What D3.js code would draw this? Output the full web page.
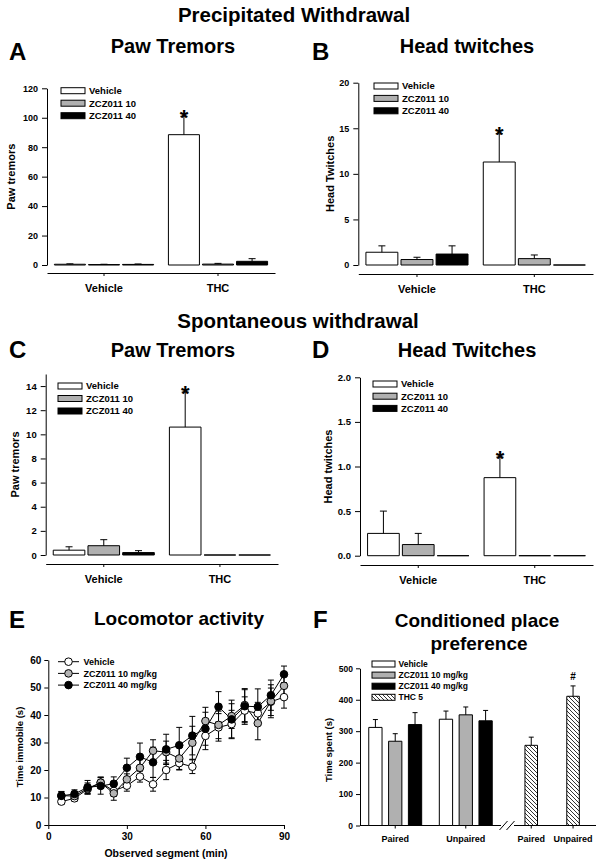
<!DOCTYPE html>
<html><head><meta charset="utf-8">
<script src="https://cdn.jsdelivr.net/npm/d3@7"></script>
<style>
body{margin:0;background:#fff;}
svg{display:block;font-family:"Liberation Sans",Arial,sans-serif;font-weight:bold;}
</style></head><body>
<svg id="c" width="600" height="864"></svg>
<script>
// ---------------- data ----------------
const barGroups = ["Vehicle", "THC"];
const barSeries = ["Vehicle", "ZCZ011 10", "ZCZ011 40"];
// [group][series]
const pawPrecipMean = [[0.5, 0.3, 0.4], [88.5, 0.6, 2.5]];
const pawPrecipSem  = [[0.3, 0.2, 0.3], [12.5, 0.5, 1.8]];
const headPrecipMean = [[1.4, 0.6, 1.2], [11.3, 0.7, 0]];
const headPrecipSem  = [[0.7, 0.25, 0.9], [3.1, 0.4, 0]];
const pawSpontMean = [[0.4, 0.77, 0.2], [10.6, 0, 0]];
const pawSpontSem  = [[0.28, 0.5, 0.16], [2.9, 0, 0]];
const headSpontMean = [[0.25, 0.125, 0], [0.875, 0, 0]];
const headSpontSem  = [[0.25, 0.125, 0], [0.23, 0, 0]];
const starMarks = [[0, 0, 0], [1, 0, 0]];

const ticksA = [0, 20, 40, 60, 80, 100, 120];
const ticksB = [0, 5, 10, 15, 20];
const ticksC = [0, 2, 4, 6, 8, 10, 12, 14];
const ticksD = [0, 0.5, 1.0, 1.5, 2.0];

const locoSeries = ["Vehicle", "ZCZ011 10 mg/kg", "ZCZ011 40 mg/kg"];
const locoTime = [5, 10, 15, 20, 25, 30, 35, 40, 45, 50, 55, 60, 65, 70, 75, 80, 85, 90];
const locoVehicle = [8.5, 9.7, 13, 15.4, 12.4, 14.3, 17.6, 14.8, 20, 22.5, 21.2, 32.4, 35.5, 36.7, 41.6, 40.6, 44.8, 46.5];
const locoVehicleSem = [1, 1, 1.5, 2, 2, 2, 2, 2.5, 3.5, 2.5, 2.5, 5, 5, 5, 5, 4, 5, 4];
const locoZ10 = [10.7, 10.5, 13.3, 15.4, 11.5, 16.6, 20.8, 27, 26.5, 24.2, 29.9, 37.8, 36.4, 39.6, 43.6, 37, 45, 50.6];
const locoZ10Sem = [1.5, 1.5, 2, 2, 2.5, 2, 3, 4, 4, 4, 6, 5, 5, 4.5, 6, 6, 6, 4];
const locoZ40 = [10.6, 11.3, 13.7, 14.2, 15, 20.8, 24.8, 22.8, 27.5, 29, 32.5, 35, 43, 38.4, 43.2, 43, 47.2, 54.8];
const locoZ40Sem = [1.5, 1.5, 2.5, 3, 2.5, 3.5, 5, 5.5, 5.5, 6.5, 7, 6, 5.5, 7, 6, 6.5, 5.5, 3];
const locoXTicks = [0, 30, 60, 90];
const locoYTicks = [0, 10, 20, 30, 40, 50, 60];

const cppGroups = ["Paired", "Unpaired"];
const cppSeries = ["Vehicle", "ZCZ011 10 mg/kg", "ZCZ011 40 mg/kg", "THC 5"];
const cppMean = [[312, 268, 321], [338, 352, 333]];
const cppSem  = [[25, 24, 38], [26, 25, 33]];
const thcMean = [255, 411];
const thcSem  = [26, 33];
const cppYTicks = [0, 100, 200, 300, 400, 500];

// ---------------- styles ----------------
const FONT = '"Liberation Sans", Arial, sans-serif';
const fills = ["#ffffff", "#b0b0b0", "#000000"];
const svg = d3.select("#c");

const defs = svg.append("defs");
const pat = defs.append("pattern").attr("id", "hatch").attr("patternUnits", "userSpaceOnUse")
  .attr("width", 4).attr("height", 4);
pat.append("rect").attr("width", 4).attr("height", 4).attr("fill", "#fff");
pat.append("path").attr("d", "M-1,-1 L5,5 M-1,3 L1,5 M3,-1 L5,1")
  .attr("stroke", "#000").attr("stroke-width", 0.8);

function styleAxis(g, size) {
  g.attr("font-family", FONT).attr("font-size", size).attr("font-weight", "bold");
  g.selectAll("path,line").attr("stroke", "#000").attr("stroke-width", 1);
}
function txt(x, y, s, size, anchor = "middle") {
  return svg.append("text").attr("x", x).attr("y", y).attr("font-size", size)
    .attr("text-anchor", anchor).attr("fill", "#000").text(s);
}
function yLabel(x, y, s, size) {
  svg.append("text").attr("transform", `translate(${x},${y}) rotate(-90)`)
    .attr("font-size", size).attr("text-anchor", "middle").text(s);
}
function barPath(x, w, y0, y1) {
  return `M${x},${y0}H${x + w}V${y1}H${x}Z`;
}

// ---------------- titles ----------------
txt(294, 22, "Precipitated Withdrawal", 20.5);
txt(298, 328, "Spontaneous withdrawal", 20.5);

// ---------------- bar panels A-D ----------------
function barPanel(L, means, sems, yTicks, fmt, ylab, title, letter) {
  const y = d3.scaleLinear().domain(L.yDomain).range([L.y0, L.yTop]);
  const x0 = d3.scaleBand().domain(barGroups).range([L.xL, L.xR]).paddingInner(0.13).paddingOuter(0.065);
  const x1 = d3.scaleBand().domain(barSeries).range([0, x0.bandwidth()]).paddingInner(0.09);

  const ya = svg.append("g").attr("transform", `translate(${L.xL},0)`)
    .call(d3.axisLeft(y).tickValues(yTicks).tickFormat(fmt).tickSize(5).tickSizeOuter(0).tickPadding(4));
  styleAxis(ya, L.tick);
  const xa = svg.append("g").attr("transform", `translate(0,${L.xAxisY})`)
    .call(d3.axisBottom(x0).tickSize(3).tickSizeOuter(0).tickPadding(8));
  styleAxis(xa, 11);

  barGroups.forEach((gname, gi) => {
    barSeries.forEach((sname, si) => {
      const bx = x0(gname) + x1(sname), bw = x1.bandwidth();
      const m = means[gi][si], e = sems[gi][si];
      svg.append("path").attr("d", barPath(bx, bw, y(0), y(m)))
        .attr("fill", fills[si]).attr("stroke", "#000").attr("stroke-width", 1);
      const cx = bx + bw / 2;
      if (e > 0) {
        svg.append("line").attr("x1", cx).attr("x2", cx).attr("y1", y(m)).attr("y2", y(m + e)).attr("stroke", "#000");
        svg.append("line").attr("x1", cx - 3.5).attr("x2", cx + 3.5).attr("y1", y(m + e)).attr("y2", y(m + e)).attr("stroke", "#000");
      }
      if (starMarks[gi][si]) txt(cx, y(m + e) + 8.5, "*", 22);
    });
  });

  // legend
  barSeries.forEach((s, i) => {
    const cy = L.legY + i * L.legDy;
    svg.append("rect").attr("x", L.legX).attr("y", cy - 3).attr("width", 24).attr("height", 6)
      .attr("fill", fills[i]).attr("stroke", "#000").attr("stroke-width", 1);
    txt(L.legX + 28, cy + 3.4, s, 9.5, "start");
  });

  yLabel(L.ylx, (L.y0 + L.yTop) / 2, ylab, 11);
  txt(L.tx, L.ty, title, 20);
  txt(L.lx, L.ly, letter, 24, "start");
}

barPanel({xL: 47, xR: 275, y0: 265, yTop: 88.3, yDomain: [0, 120], xAxisY: 273, tick: 9,
          legX: 61, legY: 90.7, legDy: 12.5, ylx: 15, tx: 173, ty: 53, lx: 9, ly: 60},
  pawPrecipMean, pawPrecipSem, ticksA, d3.format("d"), "Paw tremors", "Paw Tremors", "A");

barPanel({xL: 358.3, xR: 593, y0: 265, yTop: 82.7, yDomain: [0, 20], xAxisY: 274, tick: 9,
          legX: 374, legY: 86, legDy: 12.4, ylx: 334, tx: 467, ty: 53, lx: 312, ly: 60},
  headPrecipMean, headPrecipSem, ticksB, d3.format("d"), "Head Twitches", "Head twitches", "B");

barPanel({xL: 45.7, xR: 278, y0: 555, yTop: 374, yDomain: [0, 15], xAxisY: 564, tick: 9.5,
          legX: 58, legY: 386, legDy: 12.5, ylx: 19, tx: 173, ty: 357, lx: 9, ly: 358},
  pawSpontMean, pawSpontSem, ticksC, d3.format("d"), "Paw tremors", "Paw Tremors", "C");

barPanel({xL: 360, xR: 593, y0: 555.7, yTop: 377.3, yDomain: [0, 2], xAxisY: 565, tick: 9.5,
          legX: 373, legY: 384, legDy: 12.2, ylx: 332, tx: 467, ty: 357, lx: 312, ly: 358},
  headSpontMean, headSpontSem, ticksD, d3.format(".1f"), "Head twitches", "Head Twitches", "D");

// ---------------- panel E ----------------
(function () {
  const x = d3.scaleLinear().domain([0, 90]).range([48.3, 284]);
  const y = d3.scaleLinear().domain([0, 60]).range([825, 660]);
  const ya = svg.append("g").attr("transform", "translate(48.3,0)")
    .call(d3.axisLeft(y).tickValues(locoYTicks).tickSize(4).tickSizeOuter(0).tickPadding(3));
  styleAxis(ya, 10);
  const xa = svg.append("g").attr("transform", "translate(0,825)")
    .call(d3.axisBottom(x).tickValues(locoXTicks).tickSize(4).tickSizeOuter(0).tickPadding(4));
  styleAxis(xa, 10);

  const series = [
    {name: locoSeries[0], v: locoVehicle, e: locoVehicleSem, fill: "#ffffff"},
    {name: locoSeries[1], v: locoZ10, e: locoZ10Sem, fill: "#b4b4b4"},
    {name: locoSeries[2], v: locoZ40, e: locoZ40Sem, fill: "#000000"}
  ];
  const line = d3.line().x((d, i) => x(locoTime[i])).y(d => y(d));
  series.forEach(s => {
    svg.append("path").attr("d", line(s.v)).attr("fill", "none").attr("stroke", "#000").attr("stroke-width", 1);
  });
  series.forEach(s => {
    s.v.forEach((v, i) => {
      const cx = x(locoTime[i]);
      const t = y(v + s.e[i]), b = y(v - s.e[i]);
      svg.append("line").attr("x1", cx).attr("x2", cx).attr("y1", t).attr("y2", b).attr("stroke", "#000");
      [t, b].forEach(yy => svg.append("line").attr("x1", cx - 3).attr("x2", cx + 3).attr("y1", yy).attr("y2", yy).attr("stroke", "#000"));
    });
  });
  series.forEach(s => {
    s.v.forEach((v, i) => {
      svg.append("circle").attr("cx", x(locoTime[i])).attr("cy", y(v)).attr("r", 3.8)
        .attr("fill", s.fill).attr("stroke", "#000").attr("stroke-width", 1);
    });
  });
  // legend
  series.forEach((s, i) => {
    const cy = 661.7 + i * 11.7;
    svg.append("line").attr("x1", 58).attr("x2", 79).attr("y1", cy).attr("y2", cy).attr("stroke", "#000");
    svg.append("circle").attr("cx", 68.5).attr("cy", cy).attr("r", 3.8).attr("fill", s.fill).attr("stroke", "#000");
    txt(83.5, cy + 3.2, s.name, 9, "start");
  });
  yLabel(23, 747, "Time immobile (s)", 9.5);
  txt(166, 857, "Observed segment (min)", 10.5);
  txt(179, 625, "Locomotor activity", 19);
  txt(9, 628, "E", 24, "start");
})();

// ---------------- panel F ----------------
(function () {
  const y = d3.scaleLinear().domain([0, 500]).range([825.5, 668.3]);
  const x0 = d3.scaleBand().domain(cppGroups).range([361, 500]).paddingInner(0.25).paddingOuter(0.11);
  const x1 = d3.scaleBand().domain(cppSeries.slice(0, 3)).range([0, x0.bandwidth()]).paddingInner(0.33);
  const xt = d3.scaleBand().domain(cppGroups).range([516.6, 587.7]).paddingInner(0.7).paddingOuter(0.2);

  const ya = svg.append("g").attr("transform", "translate(360,0)")
    .call(d3.axisLeft(y).tickValues(cppYTicks).tickSize(4).tickSizeOuter(0).tickPadding(3));
  styleAxis(ya, 8.5);
  // x axes (broken)
  const xa1 = svg.append("g").attr("transform", "translate(0,825.5)")
    .call(d3.axisBottom(x0).tickSize(3).tickSizeOuter(0).tickPadding(7));
  styleAxis(xa1, 9);
  xa1.select(".domain").remove();
  const xa2 = svg.append("g").attr("transform", "translate(0,825.5)")
    .call(d3.axisBottom(xt).tickSize(3).tickSizeOuter(0).tickPadding(7));
  styleAxis(xa2, 9);
  xa2.select(".domain").remove();
  svg.append("line").attr("x1", 360).attr("x2", 501).attr("y1", 825.5).attr("y2", 825.5).attr("stroke", "#000");
  svg.append("line").attr("x1", 514).attr("x2", 596).attr("y1", 825.5).attr("y2", 825.5).attr("stroke", "#000");
  [503.5, 510.5].forEach(bx => svg.append("line").attr("x1", bx - 4).attr("x2", bx + 4)
    .attr("y1", 830).attr("y2", 821).attr("stroke", "#000"));

  function errBar(cx, m, e) {
    svg.append("line").attr("x1", cx).attr("x2", cx).attr("y1", y(m)).attr("y2", y(m + e)).attr("stroke", "#000");
    svg.append("line").attr("x1", cx - 2.5).attr("x2", cx + 2.5).attr("y1", y(m + e)).attr("y2", y(m + e)).attr("stroke", "#000");
  }
  cppGroups.forEach((g, gi) => {
    cppSeries.slice(0, 3).forEach((s, si) => {
      const bx = x0(g) + x1(s), bw = x1.bandwidth();
      svg.append("path").attr("d", barPath(bx, bw, y(0), y(cppMean[gi][si])))
        .attr("fill", fills[si]).attr("stroke", "#000");
      errBar(bx + bw / 2, cppMean[gi][si], cppSem[gi][si]);
    });
    const tx = xt(g), tw = xt.bandwidth();
    svg.append("path").attr("d", barPath(tx, tw, y(0), y(thcMean[gi])))
      .attr("fill", "url(#hatch)").attr("stroke", "#000");
    errBar(tx + tw / 2, thcMean[gi], thcSem[gi]);
  });
  const ux = xt("Unpaired") + xt.bandwidth() / 2;
  txt(ux, y(thcMean[1] + thcSem[1]) - 5.5, "#", 10);

  // legend
  const lf = [fills[0], fills[1], fills[2], "url(#hatch)"];
  cppSeries.forEach((s, i) => {
    const cy = 664 + i * 11.1;
    svg.append("rect").attr("x", 372).attr("y", cy - 3).attr("width", 23).attr("height", 6)
      .attr("fill", lf[i]).attr("stroke", "#000").attr("stroke-width", 1);
    txt(398.5, cy + 3.1, s, 8.5, "start");
  });
  yLabel(332, 750, "Time spent (s)", 9.5);
  txt(477, 627, "Conditioned place", 19);
  txt(479, 650, "preference", 19);
  txt(313, 628, "F", 24, "start");
})();
</script>
</body></html>
